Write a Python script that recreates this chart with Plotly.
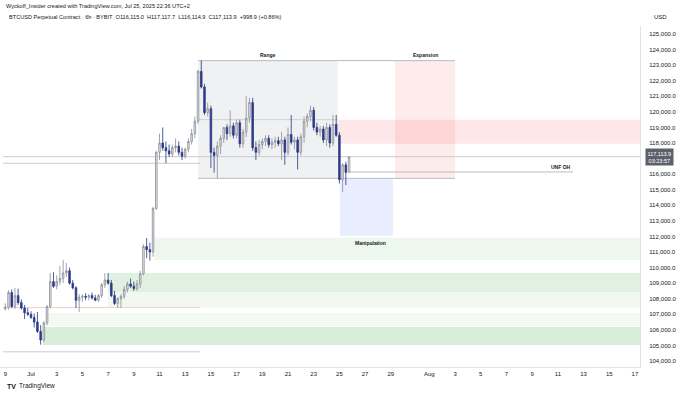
import plotly.graph_objects as go
import pandas as pd

# ---------------- data (BTCUSD perpetual, 6h candles) ----------------
opens = [107350, 107450, 108400, 107500, 108200, 107750, 107400, 107100, 107000, 106800,
         106500, 105900, 105350, 106450, 107500, 109100, 108800, 109100, 109300, 109650,
         109800, 109000, 108700, 107900, 108100, 108150, 108100, 108200, 108050, 107900,
         108200, 108900, 109200, 109000, 108200, 107700, 108000, 108150, 108600, 108950,
         108800, 108650, 108950, 109600, 111350, 111150, 111000, 113800, 117400, 118000,
         117700, 117500, 117300, 117700, 117800, 117400, 117150, 117600, 118100, 118600,
         119400, 122600, 121600, 119950, 120200, 117400, 117200, 117800, 118300, 119000,
         118600, 119100, 118500, 119300, 117950, 118700, 119600, 120600, 117700, 117400,
         117900, 118100, 118300, 117900, 118050, 118150, 117950, 118200, 117400, 118550,
         118050, 118200, 117400, 118400, 119400, 119700, 120100, 119000, 118700, 118900,
         118200, 119000, 118000, 119200, 118500, 115650, 116600, 116115.0]
highs = [107700, 108550, 108600, 108700, 108650, 107950, 107600, 107400, 107200, 107050,
         107150, 106300, 106550, 107600, 109650, 109700, 109500, 110100, 110500, 110300,
         110000, 109200, 108800, 108300, 108300, 108350, 108300, 108400, 108250, 108300,
         109000, 109650, 109650, 109200, 108500, 108100, 108300, 108800, 109100, 109300,
         109100, 109200, 109800, 111500, 111900, 111600, 113900, 117500, 118600, 119000,
         118100, 117900, 117900, 118300, 118100, 117700, 117700, 118300, 118900, 119700,
         122700, 123300, 121800, 120600, 120400, 117700, 118100, 118500, 119000, 119200,
         120100, 119300, 119500, 119500, 118900, 121000, 120900, 120900, 118100, 118200,
         118300, 118500, 118500, 118300, 118400, 118400, 118700, 118400, 119000, 119800,
         118400, 118400, 118600, 119700, 119900, 120400, 120300, 119300, 119100, 119100,
         119300, 119200, 119800, 119800, 118700, 116700, 116800, 117117.7]
lows = [107250, 107300, 107400, 107350, 107600, 107300, 106700, 106900, 106700, 106150,
        105800, 105050, 105200, 106300, 107400, 108700, 108600, 108900, 109000, 109400,
        108900, 108600, 107400, 107150, 107800, 107900, 107900, 107950, 107850, 107800,
        108050, 108700, 108900, 108100, 107600, 107400, 107400, 108000, 108400, 108700,
        108500, 108500, 108700, 109500, 110600, 110450, 110700, 113700, 116900, 117500,
        116700, 117100, 117100, 117400, 117200, 116900, 117000, 117400, 117900, 118300,
        119200, 121500, 119800, 119700, 116400, 116100, 115750, 117300, 118000, 118200,
        118400, 118300, 118300, 117700, 117700, 118400, 119300, 117500, 116900, 117200,
        117600, 117800, 117700, 117600, 117700, 117800, 116900, 116600, 117200, 117900,
        117600, 116300, 117200, 118000, 119000, 119400, 118800, 118500, 118400, 118000,
        117800, 117700, 117800, 118400, 115400, 114850, 115300, 116114.9]
closes = [107450, 108400, 107500, 108200, 107750, 107400, 107100, 107000, 106800, 106500,
          105900, 105350, 106450, 107500, 109100, 108800, 109100, 109300, 109650, 109800,
          109000, 108700, 107900, 108100, 108150, 108100, 108200, 108050, 107900, 108200,
          108900, 109200, 109000, 108200, 107700, 108000, 108150, 108600, 108950, 108800,
          108650, 108950, 109600, 111350, 111150, 111000, 113800, 117400, 118000, 117700,
          117500, 117300, 117700, 117800, 117400, 117150, 117600, 118100, 118600, 119400,
          122600, 121600, 119950, 120200, 117400, 117200, 117800, 118300, 119000, 118600,
          119100, 118500, 119300, 117950, 118700, 119600, 120600, 117700, 117400, 117900,
          118100, 118300, 117900, 118050, 118150, 117950, 118200, 117400, 118550, 118050,
          118200, 117400, 118400, 119400, 119700, 120100, 119000, 118700, 118900, 118200,
          119000, 118000, 119200, 118500, 115650, 116600, 116115.0, 117113.9]
first_bar = "2025-06-29 00:00"
dates = pd.date_range(first_bar, periods=len(closes), freq="6h")

x_tick_dates = ["2025-06-29", "2025-07-01", "2025-07-03", "2025-07-05", "2025-07-07", "2025-07-09",
                "2025-07-11", "2025-07-13", "2025-07-15", "2025-07-17", "2025-07-19", "2025-07-21",
                "2025-07-23", "2025-07-25", "2025-07-27", "2025-07-29", "2025-08-01", "2025-08-03",
                "2025-08-05", "2025-08-07", "2025-08-09", "2025-08-11", "2025-08-13", "2025-08-15",
                "2025-08-17"]
x_tick_text = ["9", "Jul", "3", "5", "7", "9", "11", "13", "15", "17", "19", "21", "23", "25",
               "27", "29", "Aug", "3", "5", "7", "9", "11", "13", "15", "17"]
y_tick_vals = [125000, 124000, 123000, 122000, 121000, 120000, 119000, 118000, 116000, 115000,
               114000, 113000, 112000, 111000, 110000, 109000, 108000, 107000, 106000, 105000, 104000]

x_view = ["2025-06-28 14:06", "2025-08-17 09:25"]
y_view = [103615, 125514]

# drawings
range_x = ["2025-07-14 00:00", "2025-07-24 21:00"]
range_y = [115730, 123290]
expansion_x = ["2025-07-29 08:00", "2025-08-03 00:00"]
manip_x = ["2025-07-25 01:00", "2025-07-29 04:00"]
manip_y = [112050, 115730]
supply_x0 = "2025-07-24 21:00"
supply_y = [117950, 119500]
green_starts = ["2025-07-10 15:00", "2025-07-07 00:00", "2025-07-07 00:00", "2025-07-02 02:00", "2025-07-01 22:00"]
green_lows = [110480, 108430, 107430, 106250, 105030]
green_highs = [111920, 109650, 108430, 107080, 106190]
green_colors = ["#eef7ee", "#e1f1e1", "#f0f8f0", "#f3f9f3", "#d9eed9"]
left_line_start = "2025-06-28 19:40"
left_line_end = "2025-07-14 03:40"
unf_x = ["2025-07-25 19:40", "2025-08-12 04:20"]
unf_y = 116140
level_full = 117120
level_left = 116700
level_pink = 107430
level_low = 104590

fig = go.Figure()

shapes = []
def rect(x0, x1, y0, y1, color, xref="x"):
    shapes.append(dict(type="rect", xref=xref, yref="y", x0=x0, x1=x1, y0=y0, y1=y1,
                       fillcolor=color, line=dict(width=0), layer="below"))
def hline(x0, x1, y, color, width=1, xref="x"):
    shapes.append(dict(type="line", xref=xref, yref="y", x0=x0, x1=x1, y0=y, y1=y,
                       line=dict(color=color, width=width), layer="below"))

for s, lo, hi, c in zip(green_starts, green_lows, green_highs, green_colors):
    rect(s, x_view[1], lo, hi, c)
rect(range_x[0], range_x[1], range_y[0], range_y[1], "rgba(120,123,140,0.11)")
rect(expansion_x[0], expansion_x[1], range_y[0], range_y[1], "rgba(242,54,69,0.10)")
rect(supply_x0, x_view[1], supply_y[0], supply_y[1], "rgba(242,54,69,0.12)")
rect(manip_x[0], manip_x[1], manip_y[0], manip_y[1], "rgba(41,98,255,0.11)")

hline(range_x[0], expansion_x[1], range_y[1], "#b8bbc3")
hline(range_x[0], expansion_x[1], range_y[0], "#b8bbc3")
hline(range_x[0], range_x[1], supply_y[1], "#d0d2d8")
hline(left_line_start, x_view[1], level_full, "#c9cbd1")
hline(left_line_start, left_line_end, level_left, "#c9cbd1")
hline(unf_x[0], unf_x[1], unf_y, "#b8bbc3")
hline(left_line_start, left_line_end, level_pink, "#efcfd2")
hline(left_line_start, left_line_end, level_low, "#c9cbd1")

fig.add_trace(go.Candlestick(
    x=dates, open=opens, high=highs, low=lows, close=closes,
    increasing=dict(line=dict(color="#8a8d96", width=0.8), fillcolor="#e6e8ee"),
    decreasing=dict(line=dict(color="#27357e", width=0.8), fillcolor="#2f3f96"),
    whiskerwidth=0, showlegend=False, hoverinfo="skip"))

last_close = closes[-1]
ann = [
    dict(x="2025-07-19 10:30", y=range_y[1], text="<b>Range</b>", yanchor="bottom", yshift=1),
    dict(x="2025-07-31 16:00", y=range_y[1], text="<b>Expansion</b>", yanchor="bottom", yshift=1),
    dict(x="2025-07-27 11:00", y=manip_y[0], text="<b>Manipulation</b>", yanchor="top", yshift=-2),
    dict(x=unf_x[1], y=unf_y, text="<b>UNF OH</b>", xanchor="right", yanchor="bottom", yshift=0),
]
annotations = []
for a in ann:
    d = dict(xref="x", yref="y", showarrow=False, font=dict(size=5, color="#131722", family="Arial"))
    d.update(a)
    annotations.append(d)

annotations += [
    dict(xref="paper", yref="y", x=1.03, y=last_close, xanchor="center", yanchor="middle",
         text="117,113.9<br>03:23:57", showarrow=False, bgcolor="#5d606b", borderpad=1.5,
         font=dict(size=5.5, color="#ffffff", family="Arial")),
]

fig.update_layout(
    width=680, height=393,
    margin=dict(l=0, r=40, t=26, b=26),
    paper_bgcolor="#ffffff", plot_bgcolor="#ffffff",
    shapes=shapes, annotations=annotations,
    xaxis=dict(type="date", range=x_view, tickvals=x_tick_dates, ticktext=x_tick_text,
               showgrid=False, zeroline=False, rangeslider=dict(visible=False),
               showline=True, linecolor="#e0e3eb", linewidth=1, mirror=False,
               tickfont=dict(size=6, color="#131722", family="Arial"), ticks="", ticklabelstandoff=1),
    yaxis=dict(range=y_view, side="right", tickvals=y_tick_vals, tickformat=",.1f",
               showgrid=False, zeroline=False, showline=True, linecolor="#e0e3eb", linewidth=1,
               tickfont=dict(size=6, color="#131722", family="Arial"), ticks="", ticklabelstandoff=7),
    font=dict(family="Arial"),
)

# header and footer texts
texts = [
    dict(x=4, y=6, text="Wyckoff_Insider created with TradingView.com, Jul 25, 2025 22:36 UTC+2", size=5.6),
    dict(x=7, y=17, text="BTCUSD Perpetual Contract · 6h · BYBIT  O116,115.0  H117,117.7  L116,114.9  C117,113.9  +998.9 (+0.86%)", size=5.6),
    dict(x=652, y=17, text="USD", size=6),
    dict(x=17, y=386, text="TradingView", size=6.5),
]
for t in texts:
    fig.add_annotation(xref="paper", yref="paper", x=t["x"] / 640, y=1 - (t["y"] - 26) / 341,
                       xanchor="left", yanchor="middle", text=t["text"], showarrow=False,
                       font=dict(size=t["size"], color="#131722", family="Arial"))
fig.add_annotation(xref="paper", yref="paper", x=5 / 640, y=1 - (386 - 26) / 341,
                   xanchor="left", yanchor="middle", text="<b>TV</b>", showarrow=False,
                   font=dict(size=7, color="#131722", family="Arial Black, Arial"))

fig.write_html("out.html", config={"displayModeBar": False},
               post_script="document.body.style.margin='0';document.body.style.padding='0';")
